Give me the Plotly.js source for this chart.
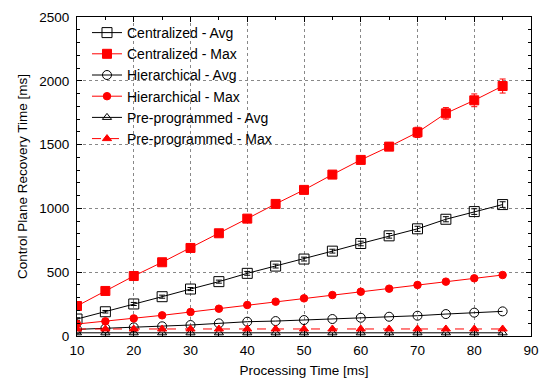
<!DOCTYPE html>
<html><head><meta charset="utf-8">
<script src="https://cdn.plot.ly/plotly-3.0.1.min.js"></script>
<style>html,body{margin:0;padding:0;background:#fff}</style>
</head><body><div id="chart" style="width:543px;height:379px"></div>
<script>
const procTime = [10,15,20,25,30,35,40,45,50,55,60,65,70,75,80,85];
const centralAvg = [133,190,251,308,368,426,491,548,603,665,725,785,840,915,975,1030];
const centralAvgErr = [10,10,12,12,12,12,15,15,15,15,18,18,20,20,22,22];
const centralMax = [235,353,470,578,690,805,920,1035,1145,1265,1380,1484,1596,1745,1847,1959];
const centralMaxErr = [8,8,10,10,10,12,12,12,15,18,22,30,40,45,50,55];
const hierAvg = [52,60,68,76,86,99,112,117,125,133,143,151,159,172,183,193];
const hierMax = [94,115,138,162,188,214,243,269,295,321,347,371,400,426,452,478];
const preAvg = [25,25,25,25,25,25,25,25,25,25,25,25,25,25,25,25];
const preMax = [55,55,55,55,55,55,55,55,55,55,55,55,55,55,55,55];
const names = ['Centralized - Avg','Centralized - Max','Hierarchical - Avg','Hierarchical - Max','Pre-programmed - Avg','Pre-programmed - Max'];

function tr(name, y, color, symbol, size, dash, err){
  const t = {x: procTime, y: y, name: name, type:'scatter', mode:'lines+markers',
    line:{color:color, width:1, dash:dash||'solid'},
    marker:{symbol:symbol, size:size, color:color, line:{color:color, width:1}}};
  if(err){ t.error_y = {type:'data', array: err, visible:true, color:color, thickness:1, width:3}; }
  return t;
}
const data = [
  tr(names[0], centralAvg, '#000', 'square-open', 10, 'solid', centralAvgErr),
  tr(names[1], centralMax, '#ff0000', 'square', 9, 'solid', centralMaxErr),
  tr(names[2], hierAvg, '#000', 'circle-open', 9, 'solid'),
  tr(names[3], hierMax, '#ff0000', 'circle', 7.5, 'solid'),
  tr(names[4], preAvg, '#000', 'triangle-up-open', 8, 'solid'),
  tr(names[5], preMax, '#ff0000', 'triangle-up', 8, 'dash')
];
const axisCommon = {showline:true, linecolor:'#000', linewidth:1, mirror:'ticks', ticks:'inside', ticklen:5,
  tickcolor:'#000', showgrid:true, gridcolor:'#888', griddash:'dot', gridwidth:1, zeroline:false,
  tickfont:{size:13.5, color:'#000'}};
const layout = {
  width:543, height:379,
  margin:{l:77, r:12, t:17, b:43},
  paper_bgcolor:'#fff', plot_bgcolor:'#fff',
  font:{family:'Liberation Sans, Arial, sans-serif', size:13.5, color:'#000'},
  showlegend:true,
  legend:{x:0.022, y:1.0, xanchor:'left', yanchor:'top', bgcolor:'rgba(255,255,255,0)', font:{size:14}, tracegroupgap:0},
  xaxis: Object.assign({}, axisCommon, {range:[10,90], dtick:10, tick0:10, ticklabelstandoff:2,
    title:{text:'Processing Time [ms]', font:{size:13.5}, standoff:8},
    minor:{ticks:'inside', ticklen:3, dtick:5, tickcolor:'#000', showgrid:false}}),
  yaxis: Object.assign({}, axisCommon, {range:[0,2500], dtick:500, ticklabelstandoff:4,
    title:{text:'Control Plane Recovery Time [ms]', font:{size:13.5}, standoff:8},
    minor:{ticks:'inside', ticklen:3, dtick:100, tickcolor:'#000', showgrid:false}})
};
Plotly.newPlot('chart', data, layout, {displayModeBar:false, staticPlot:true});
</script></body></html>
